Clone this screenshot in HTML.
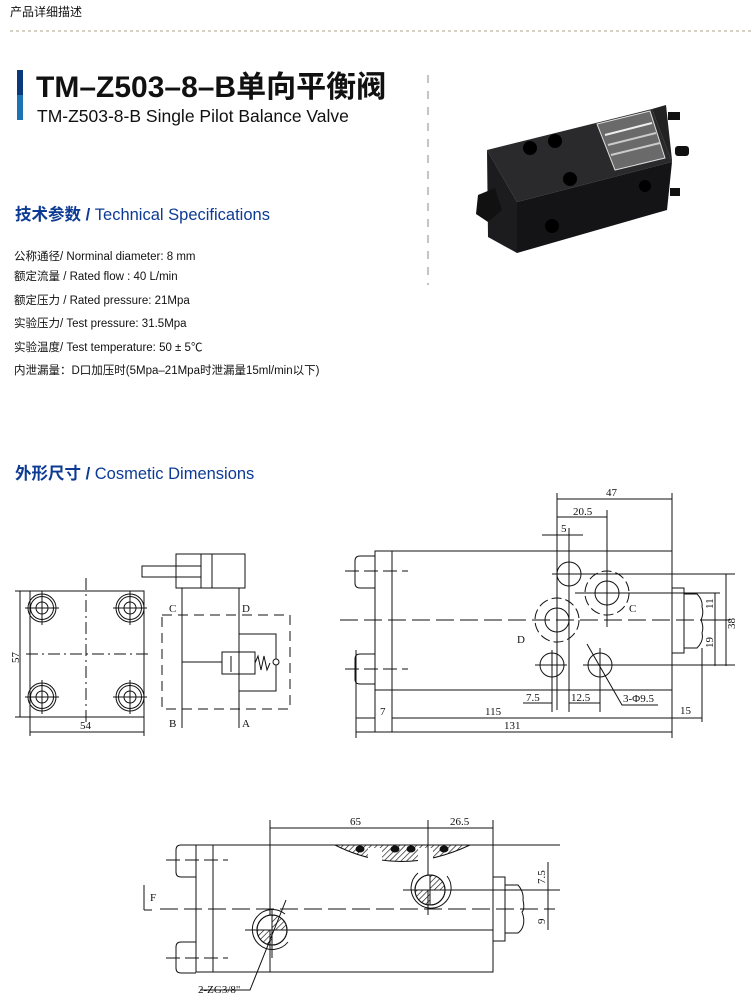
<!DOCTYPE html>
<html><head><meta charset="utf-8"><style>
body{margin:0;background:#fff;width:751px;height:1004px;overflow:hidden}
svg{display:block}
text{font-family:"Liberation Serif",serif;fill:#111}
.s{font-family:"Liberation Sans","Noto Sans CJK SC",sans-serif}
</style></head><body>
<svg width="751" height="1004" viewBox="0 0 751 1004" xmlns="http://www.w3.org/2000/svg">
<defs>
<pattern id="h" width="4" height="4" patternUnits="userSpaceOnUse" patternTransform="rotate(45)"><line x1="0" y1="0" x2="0" y2="4" stroke="#111" stroke-width="1.3"/></pattern>
<g id="bolt" stroke="#111" fill="none"><circle r="14"/><circle r="11.5"/><circle r="6"/><line x1="-17" x2="17"/><line y1="-17" y2="17"/></g>
</defs>
<text class="s" x="10" y="16" font-size="12">产品详细描述</text>
<line x1="10" y1="31" x2="751" y2="31" stroke="#a9a38c" stroke-dasharray="3,3"/>
<rect x="17" y="70" width="6" height="50" fill="#0a3a7c"/>
<rect x="17" y="95" width="6" height="25" fill="#2a9ad8" opacity=".6"/>
<text class="s" x="36" y="97" font-size="30" font-weight="bold">TM–Z503–8–B单向平衡阀</text>
<text class="s" x="37" y="122" font-size="17.5">TM-Z503-8-B Single Pilot Balance Valve</text>
<line x1="428" y1="75" x2="428" y2="285" stroke="#888" stroke-dasharray="8,8"/>
<!-- product photo -->
<g>
<polygon points="487,150 652,109 672,162 517,202" fill="#2a2a2c"/>
<polygon points="517,202 672,162 667,210 517,253" fill="#141416"/>
<polygon points="487,150 517,202 517,253 488,237" fill="#1c1c1e"/>
<polygon points="652,109 666,105 672,160 672,162" fill="#222"/>
<polygon points="597,124 650,111 665,158 615,170" fill="#6a6a6a" stroke="#ddd"/>
<line x1="605" y1="135" x2="652" y2="123" stroke="#eee" stroke-width="2"/>
<line x1="608" y1="145" x2="656" y2="133" stroke="#ccc" stroke-width="2"/>
<line x1="611" y1="155" x2="660" y2="143" stroke="#ccc" stroke-width="2"/>
<rect x="668" y="112" width="12" height="8" fill="#111"/>
<rect x="675" y="146" width="14" height="10" rx="3" fill="#111"/>
<rect x="670" y="188" width="10" height="8" fill="#111"/>
<circle cx="530" cy="148" r="7" fill="#000"/><circle cx="555" cy="141" r="7" fill="#000"/>
<circle cx="570" cy="179" r="7" fill="#000"/><circle cx="645" cy="186" r="6" fill="#000"/><circle cx="552" cy="226" r="7" fill="#000"/>
<polygon points="478,195 495,188 502,210 488,222 476,214" fill="#111"/>
</g>
<text class="s" x="15" y="220" font-size="16.5" style="fill:#0d3b93"><tspan font-weight="bold">技术参数 / </tspan>Technical Specifications</text>
<g font-size="11.5">
<text class="s" x="14" y="260">公称通径/ Norminal diameter:  8 mm</text>
<text class="s" x="14" y="280">额定流量 / Rated flow :  40 L/min</text>
<text class="s" x="14" y="304">额定压力 / Rated pressure: 21Mpa</text>
<text class="s" x="14" y="327">实验压力/ Test pressure: 31.5Mpa</text>
<text class="s" x="14" y="351">实验温度/ Test temperature: 50 ± 5℃</text>
<text class="s" x="14" y="374">内泄漏量：D口加压时(5Mpa–21Mpa时泄漏量15ml/min以下)</text>
</g>
<text class="s" x="15" y="479" font-size="16.5" style="fill:#0d3b93"><tspan font-weight="bold">外形尺寸 / </tspan>Cosmetic Dimensions</text>

<g stroke="#111" fill="none" stroke-width="1">
<rect x="30" y="591" width="114" height="126"/>
<line x1="86" y1="578" x2="86" y2="722" stroke-dasharray="12,4,2,4"/>
<line x1="26" y1="654" x2="150" y2="654" stroke-dasharray="12,4,2,4"/>
<line x1="15" y1="591" x2="30" y2="591"/><line x1="15" y1="717" x2="30" y2="717"/>
<line x1="20" y1="591" x2="20" y2="717"/>
<line x1="30" y1="717" x2="30" y2="736"/><line x1="144" y1="717" x2="144" y2="736"/>
<line x1="30" y1="732" x2="144" y2="732"/>
<use href="#bolt" x="42" y="608"/><use href="#bolt" x="130" y="608"/><use href="#bolt" x="42" y="697"/><use href="#bolt" x="130" y="697"/>
<rect x="176" y="554" width="69" height="34"/>
<line x1="201" y1="554" x2="201" y2="588"/><line x1="212" y1="554" x2="212" y2="588"/>
<rect x="142" y="566" width="59" height="11"/>
<line x1="182" y1="588" x2="182" y2="728"/><line x1="239" y1="588" x2="239" y2="728"/>
<rect x="162" y="615" width="128" height="94" stroke-dasharray="10,6"/>
<rect x="222" y="652" width="33" height="22"/>
<line x1="182" y1="662" x2="222" y2="662"/>
<line x1="231" y1="656" x2="231" y2="672"/>
<polyline points="255,663 258,656 261,670 264,656 267,670 270,663"/>
<circle cx="276" cy="662" r="3"/>
<polyline points="239,634 276,634 276,659"/><polyline points="276,665 276,691 239,691"/>
<rect x="375" y="551" width="297" height="139"/>
<line x1="392" y1="551" x2="392" y2="732"/>
<line x1="375" y1="690" x2="375" y2="732"/>
<path d="M375,556 H360 Q355,556 355,561 V583 Q355,588 360,588 H375"/>
<path d="M375,654 H360 Q355,654 355,659 V679 Q355,684 360,684 H375"/>
<line x1="345" y1="571" x2="408" y2="571" stroke-dasharray="14,5"/>
<line x1="345" y1="669" x2="408" y2="669" stroke-dasharray="14,5"/>
<line x1="340" y1="620" x2="705" y2="620" stroke-dasharray="18,6"/>
<rect x="672" y="588" width="12" height="65"/>
<path d="M684,594 H697 Q703,600 702,607 Q704,613 701,620 Q704,627 702,633 Q704,641 697,648 H684"/>
<line x1="557" y1="493" x2="557" y2="710"/><line x1="672" y1="493" x2="672" y2="551"/>
<line x1="557" y1="499" x2="672" y2="499"/>
<line x1="607" y1="510" x2="607" y2="627"/><line x1="557" y1="517" x2="607" y2="517"/>
<line x1="569" y1="528" x2="569" y2="712"/><line x1="542" y1="535" x2="583" y2="535"/>
<circle cx="569" cy="574" r="12"/><line x1="552" y1="574" x2="735" y2="574"/>
<circle cx="607" cy="593" r="12"/><circle cx="607" cy="593" r="22" stroke-dasharray="10,4"/>
<line x1="575" y1="593" x2="720" y2="593"/>
<circle cx="557" cy="620" r="12"/><circle cx="557" cy="620" r="22" stroke-dasharray="10,4"/>
<circle cx="552" cy="665" r="12"/><circle cx="600" cy="665" r="12"/>
<line x1="535" y1="665" x2="567" y2="665"/><line x1="583" y1="665" x2="735" y2="665"/>
<line x1="552" y1="650" x2="552" y2="712"/><line x1="600" y1="648" x2="600" y2="712"/>
<polyline points="587,644 622,705 658,705"/>
<line x1="523" y1="703" x2="552" y2="703"/><line x1="569" y1="703" x2="600" y2="703"/>
<line x1="356" y1="718" x2="375" y2="718"/><line x1="392" y1="718" x2="672" y2="718"/><line x1="672" y1="718" x2="702" y2="718"/>
<line x1="672" y1="690" x2="672" y2="738"/><line x1="702" y1="648" x2="702" y2="722"/>
<line x1="356" y1="650" x2="356" y2="738"/><line x1="356" y1="732" x2="672" y2="732"/>
<line x1="726" y1="574" x2="726" y2="666"/><line x1="715" y1="593" x2="715" y2="666"/>
<line x1="700" y1="620" x2="730" y2="620"/>
<rect x="270" y="845" width="223" height="127"/>
<rect x="196" y="845" width="17" height="127"/><line x1="213" y1="845" x2="270" y2="845"/><line x1="213" y1="972" x2="270" y2="972"/>
<path d="M196,845 H181 Q176,845 176,850 V872 Q176,877 181,877 H196"/>
<path d="M196,942 H181 Q176,942 176,947 V968 Q176,973 181,973 H196"/>
<line x1="166" y1="860" x2="228" y2="860" stroke-dasharray="14,5"/>
<line x1="166" y1="958" x2="228" y2="958" stroke-dasharray="14,5"/>
<line x1="493" y1="845" x2="560" y2="845"/>
<path d="M335,845 Q400,878 470,845 Z" fill="url(#h)"/>
<rect x="368" y="848" width="14" height="18" fill="#fff" stroke="none"/><rect x="418" y="848" width="15" height="18" fill="#fff" stroke="none"/>
<ellipse cx="360" cy="849" rx="4" ry="3" fill="#111"/><ellipse cx="395" cy="849" rx="4" ry="3" fill="#111"/><ellipse cx="411" cy="849" rx="4" ry="3" fill="#111"/><ellipse cx="444" cy="849" rx="4" ry="3" fill="#111"/>
<line x1="270" y1="820" x2="270" y2="972"/><line x1="428" y1="820" x2="428" y2="915"/><line x1="493" y1="820" x2="493" y2="845"/>
<line x1="270" y1="828" x2="493" y2="828"/>
<circle cx="430" cy="890" r="15" fill="url(#h)"/><path d="M430,875 A15,15 0 0 0 415,890 L430,890Z M430,905 A15,15 0 0 0 445,890 L430,890Z" fill="#fff"/>
<circle cx="430" cy="890" r="15"/><path d="M447,876 A20,20 0 1 1 418,873"/>
<line x1="403" y1="890" x2="560" y2="890"/>
<circle cx="272" cy="930" r="15" fill="url(#h)"/><path d="M272,915 A15,15 0 0 0 257,930 L272,930Z M272,945 A15,15 0 0 0 287,930 L272,930Z" fill="#fff"/>
<circle cx="272" cy="930" r="15"/><path d="M288,942 A20,20 0 1 1 285,914"/>
<line x1="245" y1="930" x2="493" y2="930"/><line x1="272" y1="910" x2="272" y2="958"/>
<line x1="160" y1="909" x2="555" y2="909" stroke-dasharray="18,6"/>
<polyline points="286,900 250,990 200,990"/>
<rect x="493" y="877" width="12" height="64"/>
<path d="M505,885 H518 Q524,892 523,900 Q525,909 522,912 Q525,920 523,926 Q522,930 518,933 H505"/>
<line x1="548" y1="862" x2="548" y2="930"/>
<line x1="144" y1="885" x2="144" y2="910"/><line x1="144" y1="910" x2="152" y2="910"/>
</g>
<g font-size="11">
<text x="6" y="660" transform="rotate(-90 14 655)">57</text>
<text x="80" y="729">54</text>
<text x="169" y="612">C</text><text x="242" y="612">D</text>
<text x="169" y="727">B</text><text x="242" y="727">A</text>
<text x="606" y="496">47</text><text x="573" y="515">20.5</text><text x="561" y="532">5</text>
<text x="629" y="612">C</text><text x="517" y="643">D</text>
<text x="623" y="702">3-Φ9.5</text><text x="526" y="701">7.5</text><text x="571" y="701">12.5</text>
<text x="380" y="715">7</text><text x="485" y="715">115</text><text x="504" y="729">131</text><text x="680" y="714">15</text>
<text transform="translate(713,609) rotate(-90)">11</text>
<text transform="translate(735,629) rotate(-90)">38</text>
<text transform="translate(713,648) rotate(-90)">19</text>
<text x="350" y="825">65</text><text x="450" y="825">26.5</text>
<text x="150" y="901">F</text>
<text transform="translate(545,884) rotate(-90)">7.5</text>
<text transform="translate(545,924) rotate(-90)">9</text>
<text x="198" y="993">2-ZG3/8"</text>
</g>
</svg>
</body></html>
